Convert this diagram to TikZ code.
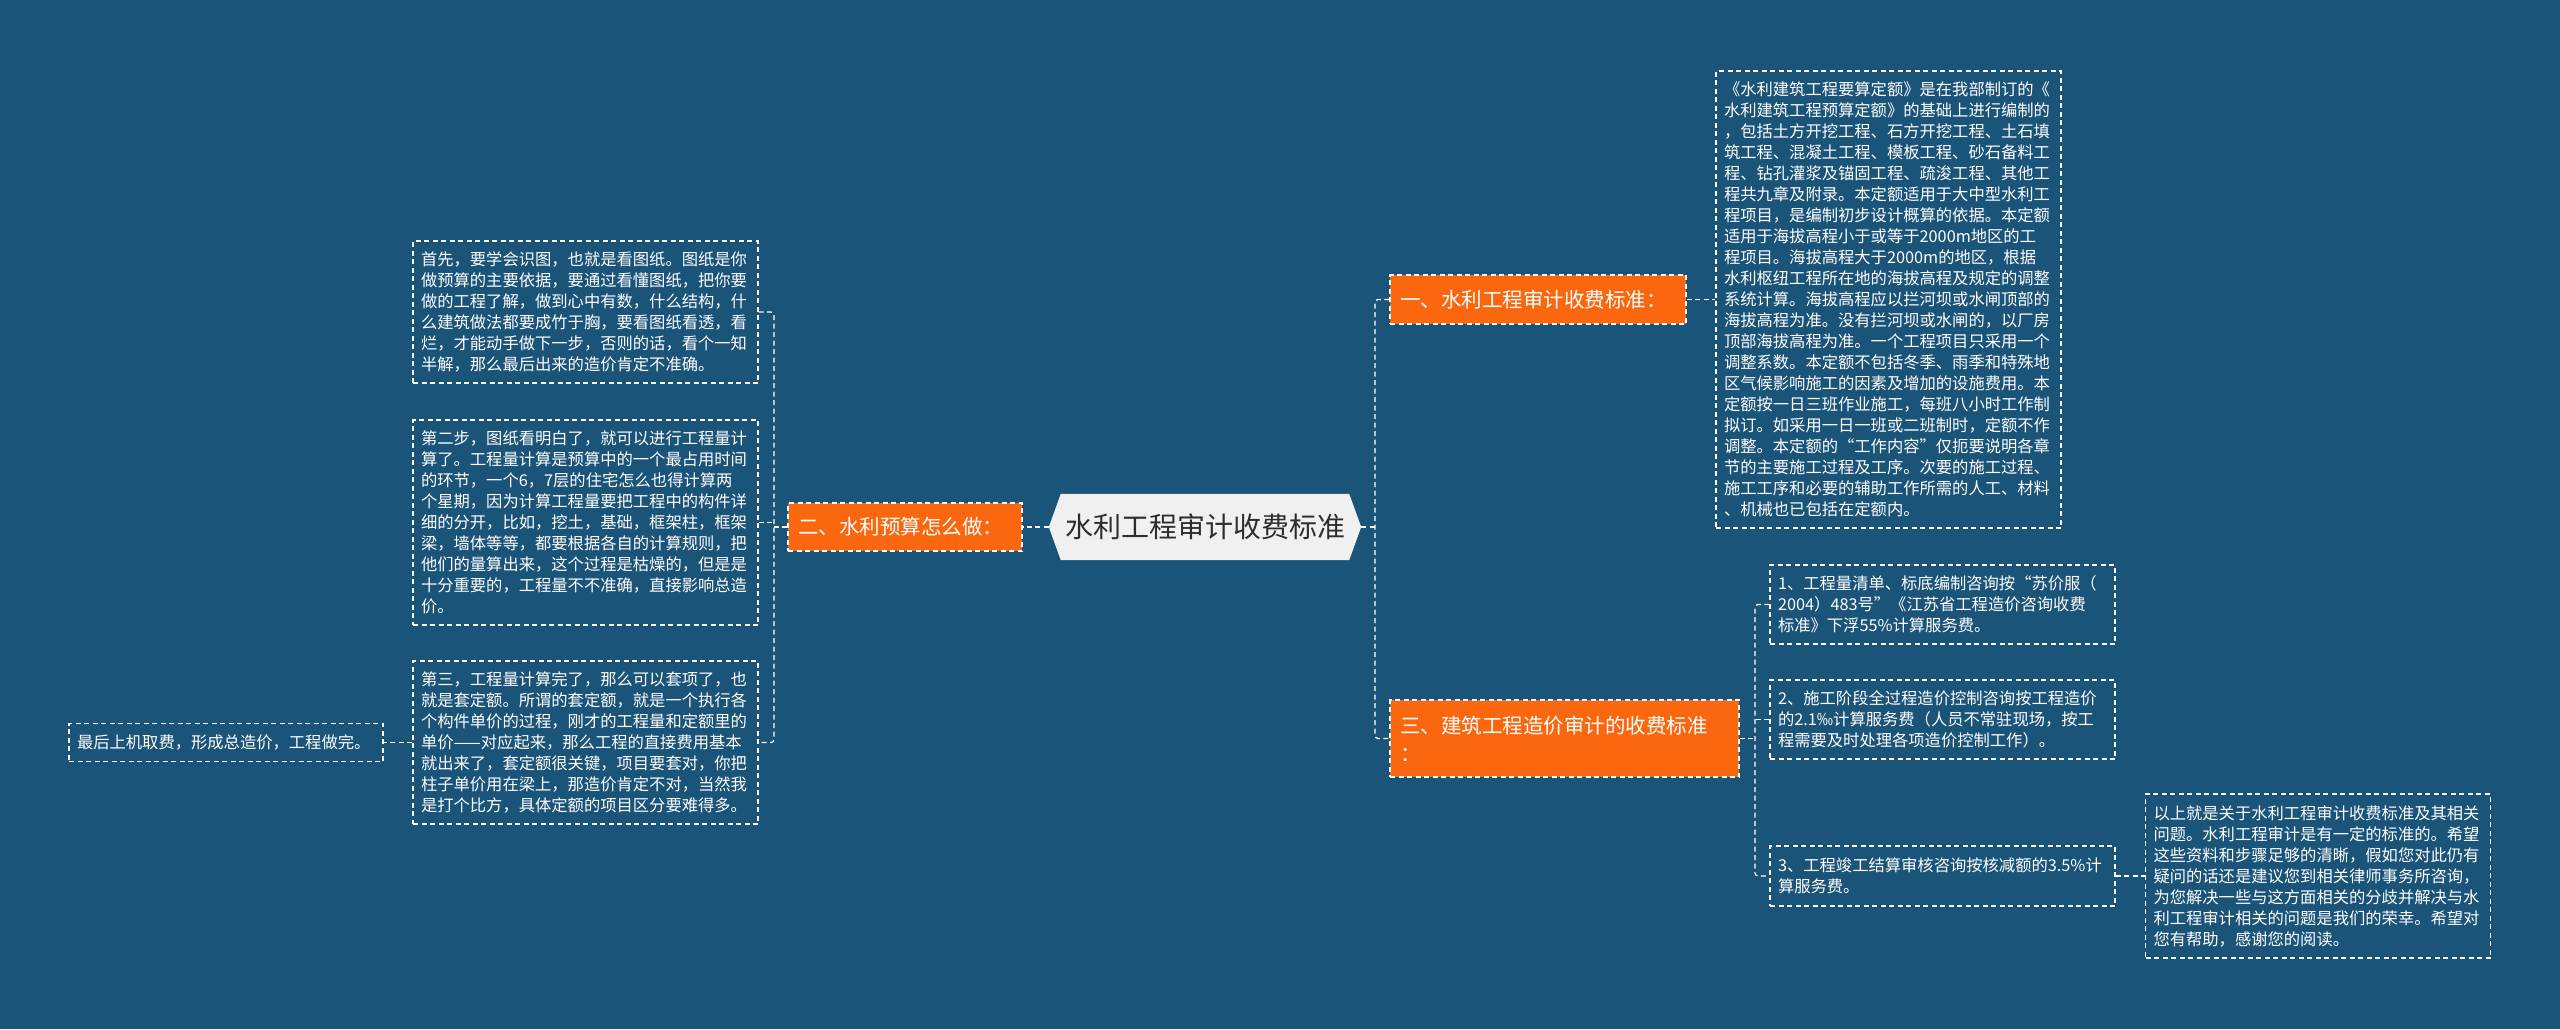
\documentclass[tikz,border=0pt]{standalone}
\usepackage{fontspec}
\setmainfont{Noto Sans CJK SC}
\usetikzlibrary{backgrounds}
\definecolor{bgblue}{RGB}{27,84,121}
\definecolor{branchorange}{RGB}{250,103,14}
\definecolor{rootgray}{RGB}{240,240,240}
\definecolor{roottext}{RGB}{45,45,45}

\begin{document}
\begin{tikzpicture}[x=1pt,y=-1pt,
  link/.style={draw=white,line width=1.2pt,dash pattern=on 5pt off 3.5pt},
  leafbox/.style={draw=white,line width=1.2pt,dash pattern=on 5pt off 3.5pt,text=white,
    font=\fontsize{16.3}{21}\selectfont,align=left,inner xsep=8pt,inner ysep=0pt,
    text width=329pt,minimum height=#1},
  branchbox/.style={fill=branchorange,draw=white,line width=1.2pt,dash pattern=on 5pt off 3.5pt,
    text=white,font=\fontsize{20.5}{28}\selectfont,align=left,inner xsep=10pt,inner ysep=0pt,
    minimum height=#1},
  rootbox/.style={text=roottext,font=\fontsize{28}{34}\selectfont,inner sep=0pt,
    minimum width=312pt,minimum height=66pt}]
  \useasboundingbox (0,0) rectangle (2560,1029);

  % centre
  \node[rootbox] (root) at (1205,527) {水利工程审计收费标准};

  % left side
  \node[branchbox=48,text width=214pt] (b2) at (905,527) {二、水利预算怎么做：};
  \node[leafbox=142] (l1) at (585.5,312) {首先，要学会识图，也就是看图纸。图纸是你\\做预算的主要依据，要通过看懂图纸，把你要\\做的工程了解，做到心中有数，什么结构，什\\么建筑做法都要成竹于胸，要看图纸看透，看\\烂，才能动手做下一步，否则的话，看个一知\\半解，那么最后出来的造价肯定不准确。};
  \node[leafbox=205] (l2) at (585.5,522.5) {第二步，图纸看明白了，就可以进行工程量计\\算了。工程量计算是预算中的一个最占用时间\\的环节，一个6，7层的住宅怎么也得计算两\\个星期，因为计算工程量要把工程中的构件详\\细的分开，比如，挖土，基础，框架柱，框架\\梁，墙体等等，都要根据各自的计算规则，把\\他们的量算出来，这个过程是枯燥的，但是是\\十分重要的，工程量不不准确，直接影响总造\\价。};
  \node[leafbox=163] (l3) at (585.5,742.5) {第三，工程量计算完了，那么可以套项了，也\\就是套定额。所谓的套定额，就是一个执行各\\个构件单价的过程，刚才的工程量和定额里的\\单价——对应起来，那么工程的直接费用基本\\就出来了，套定额很关键，项目要套对，你把\\柱子单价用在梁上，那造价肯定不对，当然我\\是打个比方，具体定额的项目区分要难得多。};
  \node[leafbox=38,text width=298pt] (l4) at (226,742.5) {最后上机取费，形成总造价，工程做完。};

  \coordinate (lj) at (774,527);
  \draw[link] (root.west) -- (b2.east);
  \draw[link] (b2.west) -- (lj);
  \draw[link,rounded corners=3pt] (l1.east) -| (lj) |- (l3.east);
  \draw[link] (l2.east) -- (l2.east -| lj);
  \draw[link] (l3.west) -- (l4.east);

  % right side
  \node[branchbox=49,text width=276pt] (b1) at (1538,299.5) {一、水利工程审计收费标准：};
  \node[branchbox=77,text width=329pt] (b3) at (1564.5,738.5) {三、建筑工程造价审计的收费标准\\：};
  \node[leafbox=457] (r1) at (1888.5,299.5) {《水利建筑工程要算定额》是在我部制订的《\\水利建筑工程预算定额》的基础上进行编制的\\，包括土方开挖工程、石方开挖工程、土石填\\筑工程、混凝土工程、模板工程、砂石备料工\\程、钻孔灌浆及锚固工程、疏浚工程、其他工\\程共九章及附录。本定额适用于大中型水利工\\程项目，是编制初步设计概算的依据。本定额\\适用于海拔高程小于或等于2000m地区的工\\程项目。海拔高程大于2000m的地区，根据\\水利枢纽工程所在地的海拔高程及规定的调整\\系统计算。海拔高程应以拦河坝或水闸顶部的\\海拔高程为准。没有拦河坝或水闸的，以厂房\\顶部海拔高程为准。一个工程项目只采用一个\\调整系数。本定额不包括冬季、雨季和特殊地\\区气候影响施工的因素及增加的设施费用。本\\定额按一日三班作业施工，每班八小时工作制\\拟订。如采用一日一班或二班制时，定额不作\\调整。本定额的“工作内容”仅扼要说明各章\\节的主要施工过程及工序。次要的施工过程、\\施工工序和必要的辅助工作所需的人工、材料\\、机械也已包括在定额内。};
  \node[leafbox=79] (r2a) at (1942.5,604.5) {1、工程量清单、标底编制咨询按“苏价服（\\2004）483号”《江苏省工程造价咨询收费\\标准》下浮55\%计算服务费。};
  \node[leafbox=79] (r2b) at (1942.5,719.5) {2、施工阶段全过程造价控制咨询按工程造价\\的2.1‰计算服务费（人员不常驻现场，按工\\程需要及时处理各项造价控制工作）。};
  \node[leafbox=60] (r2c) at (1942.5,876) {3、工程竣工结算审核咨询按核减额的3.5\%计\\算服务费。};
  \node[leafbox=164] (r3) at (2318,876) {以上就是关于水利工程审计收费标准及其相关\\问题。水利工程审计是有一定的标准的。希望\\这些资料和步骤足够的清晰，假如您对此仍有\\疑问的话还是建议您到相关律师事务所咨询，\\为您解决一些与这方面相关的分歧并解决与水\\利工程审计相关的问题是我们的荣幸。希望对\\您有帮助，感谢您的阅读。};

  \coordinate (rj) at (1375,527);
  \coordinate (bj) at (1755,738.5);
  \draw[link] (root.east) -- (rj);
  \draw[link,rounded corners=3pt] (b1.west) -| (rj) |- (b3.west);
  \draw[link] (b1.east) -- (r1.west);
  \draw[link] (b3.east) -- (bj);
  \draw[link,rounded corners=3pt] (r2a.west) -| (bj) |- (r2c.west);
  \draw[link] (r2b.west) -- (r2b.west -| bj);
  \draw[link] (r2c.east) -- (r3.west);

  % backdrop and root plate
  \begin{scope}[on background layer]
    \fill[bgblue] (0,0) rectangle (2560,1029);
    \fill[rootgray] ([xshift=12pt]root.north west) -- ([xshift=-12pt]root.north east)
      -- (root.east) -- ([xshift=-12pt]root.south east)
      -- ([xshift=12pt]root.south west) -- (root.west) -- cycle;
  \end{scope}
\end{tikzpicture}
\end{document}
